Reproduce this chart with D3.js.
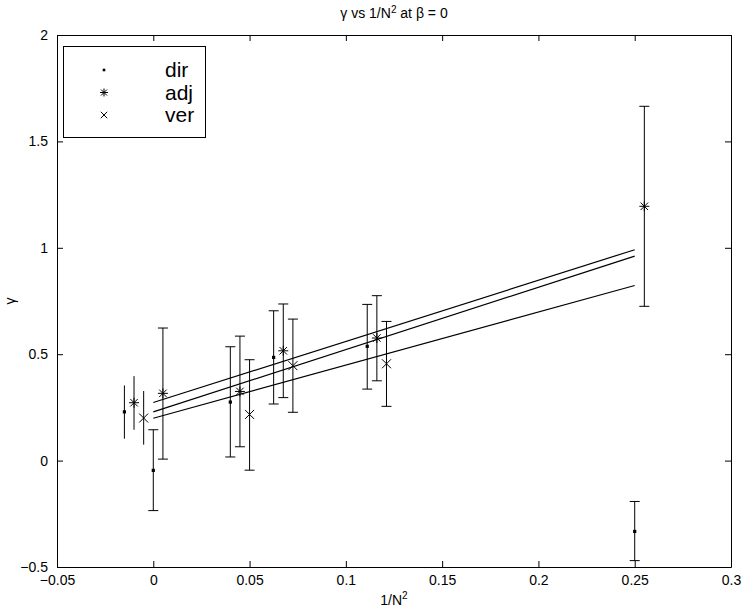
<!DOCTYPE html>
<html>
<head>
<meta charset="utf-8">
<script src="https://cdn.jsdelivr.net/npm/d3@7"></script>
<style>
  body { margin: 0; background: #fff; }
  text { font-family: "Liberation Sans", Arial, sans-serif; fill: #000; }
</style>
</head>
<body>
<script>
// data: x = 1/N^2, y = gamma, with error bars
var dirX = [-0.015, 0, 0.04, 0.0625, 0.1111, 0.25];
var dirY = [0.229, -0.046, 0.275, 0.485, 0.537, -0.333];
var dirLo = [0.103, -0.235, 0.017, 0.266, 0.336, -0.47];
var dirHi = [0.353, 0.145, 0.535, 0.704, 0.734, -0.192];

var adjX = [-0.01, 0.005, 0.045, 0.0675, 0.1161, 0.255];
var adjY = [0.272, 0.316, 0.325, 0.516, 0.576, 1.195];
var adjLo = [0.145, 0.007, 0.065, 0.296, 0.375, 0.725];
var adjHi = [0.397, 0.623, 0.585, 0.736, 0.775, 1.665];

var verX = [-0.005, 0.05, 0.0725, 0.1211];
var verY = [0.2, 0.217, 0.446, 0.455];
var verLo = [0.075, -0.045, 0.227, 0.255];
var verHi = [0.327, 0.474, 0.665, 0.654];

// straight fits, value at 1/N^2 = 0 and at 0.25
var fitX = [0, 0.25];
var fitAdj = [0.273, 0.991];
var fitDir = [0.229, 0.961];
var fitVer = [0.199, 0.823];

var xTicks = [-0.05, 0, 0.05, 0.1, 0.15, 0.2, 0.25, 0.3];
var yTicks = [-0.5, 0, 0.5, 1, 1.5, 2];

var svgWidth = 747;
var svgHeight = 612;
var margin = { top: 35, right: 16, bottom: 45, left: 57 };
var width = svgWidth - margin.left - margin.right;
var height = svgHeight - margin.top - margin.bottom;

var svg = d3.select("body").append("svg")
  .attr("width", svgWidth)
  .attr("height", svgHeight);

var chartGroup = svg.append("g")
  .attr("transform", `translate(${margin.left}, ${margin.top})`);

var xScale = d3.scaleLinear().domain([-0.05, 0.3]).range([0, width]);
var yScale = d3.scaleLinear().domain([-0.5, 2]).range([height, 0]);

// axes: ticks pointing inward on all four sides
var fmt = function(d) { return String(d).replace("-", "\u2212"); };

var bottomAxis = d3.axisBottom(xScale).tickValues(xTicks).tickSizeInner(-6).tickSizeOuter(0).tickPadding(8).tickFormat(fmt);
var topAxis = d3.axisTop(xScale).tickValues(xTicks).tickSizeInner(-6).tickSizeOuter(0).tickFormat("");
var leftAxis = d3.axisLeft(yScale).tickValues(yTicks).tickSizeInner(-6).tickSizeOuter(0).tickPadding(9).tickFormat(fmt);
var rightAxis = d3.axisRight(yScale).tickValues(yTicks).tickSizeInner(-6).tickSizeOuter(0).tickFormat("");

chartGroup.append("g").attr("transform", `translate(0, ${height})`).call(bottomAxis);
chartGroup.append("g").call(topAxis);
chartGroup.append("g").call(leftAxis);
chartGroup.append("g").attr("transform", `translate(${width}, 0)`).call(rightAxis);

chartGroup.selectAll(".domain").attr("stroke", "#000");
chartGroup.selectAll(".tick line").attr("stroke", "#000");
chartGroup.selectAll(".tick text").style("font-size", "14px").attr("fill", "#000");

// fit lines
var line = d3.line().x(d => xScale(d[0])).y(d => yScale(d[1]));
[fitAdj, fitDir, fitVer].forEach(function(f) {
  chartGroup.append("path")
    .datum(fitX.map((x, i) => [x, f[i]]))
    .attr("d", line)
    .attr("fill", "none")
    .attr("stroke", "#000")
    .attr("stroke-width", 1.2);
});

// error bars; the three extrapolated points have no caps
function errorBars(xs, lo, hi) {
  var g = chartGroup.append("g").attr("stroke", "#000").attr("stroke-width", 1);
  xs.forEach(function(x, i) {
    var px = xScale(x);
    g.append("line")
      .attr("x1", px).attr("x2", px)
      .attr("y1", yScale(lo[i])).attr("y2", yScale(hi[i]));
    if (x >= 0) {
      [lo[i], hi[i]].forEach(function(v) {
        g.append("line")
          .attr("x1", px - 5).attr("x2", px + 5)
          .attr("y1", yScale(v)).attr("y2", yScale(v));
      });
    }
  });
}
errorBars(dirX, dirLo, dirHi);
errorBars(adjX, adjLo, adjHi);
errorBars(verX, verLo, verHi);

// markers
function drawDot(g, x, y, r) {
  g.append("rect").attr("x", x - r).attr("y", y - r)
    .attr("width", 2 * r).attr("height", 2 * r).attr("fill", "#000");
}
function drawCross(g, x, y, s) {
  g.append("path")
    .attr("d", `M${x - s},${y - s}L${x + s},${y + s}M${x - s},${y + s}L${x + s},${y - s}`)
    .attr("stroke", "#000").attr("stroke-width", 1).attr("fill", "none");
}
function drawStar(g, x, y, s) {
  drawCross(g, x, y, s * 0.75);
  g.append("path")
    .attr("d", `M${x - s},${y}L${x + s},${y}M${x},${y - s}L${x},${y + s}`)
    .attr("stroke", "#000").attr("stroke-width", 1).attr("fill", "none");
}

var marks = chartGroup.append("g");
dirX.forEach((x, i) => drawDot(marks, xScale(x), yScale(dirY[i]), 1.6));
adjX.forEach((x, i) => drawStar(marks, xScale(x), yScale(adjY[i]), 5));
verX.forEach((x, i) => drawCross(marks, xScale(x), yScale(verY[i]), 4.5));

// legend
var legend = svg.append("g");
legend.append("rect")
  .attr("x", 63.5).attr("y", 46.5).attr("width", 142).attr("height", 91)
  .attr("fill", "#fff").attr("stroke", "#000").attr("stroke-width", 1);
var legendNames = ["dir", "adj", "ver"];
legendNames.forEach(function(name, i) {
  var ly = 70 + i * 22.5;
  if (i === 0) drawDot(legend, 104, ly, 1.3);
  if (i === 1) drawStar(legend, 104, ly, 4);
  if (i === 2) drawCross(legend, 104, ly, 3.2);
  legend.append("text")
    .attr("x", 165).attr("y", ly + 7)
    .style("font-size", "21px")
    .text(name);
});

// title and axis labels
var title = svg.append("text")
  .attr("x", margin.left + width / 2).attr("y", 18)
  .attr("text-anchor", "middle")
  .style("font-size", "14px");
title.append("tspan").text("\u03b3 vs 1/N");
title.append("tspan").attr("dy", -5).style("font-size", "10px").text("2");
title.append("tspan").attr("dy", 5).text(" at \u03b2 = 0");

var xLabel = svg.append("text")
  .attr("x", margin.left + width / 2).attr("y", 605)
  .attr("text-anchor", "middle")
  .style("font-size", "14px");
xLabel.append("tspan").text("1/N");
xLabel.append("tspan").attr("dy", -6).style("font-size", "10px").text("2");

svg.append("text")
  .attr("transform", `translate(15, ${margin.top + height / 2}) rotate(-90)`)
  .attr("text-anchor", "middle")
  .style("font-size", "14px")
  .text("\u03b3");
</script>
</body>
</html>
